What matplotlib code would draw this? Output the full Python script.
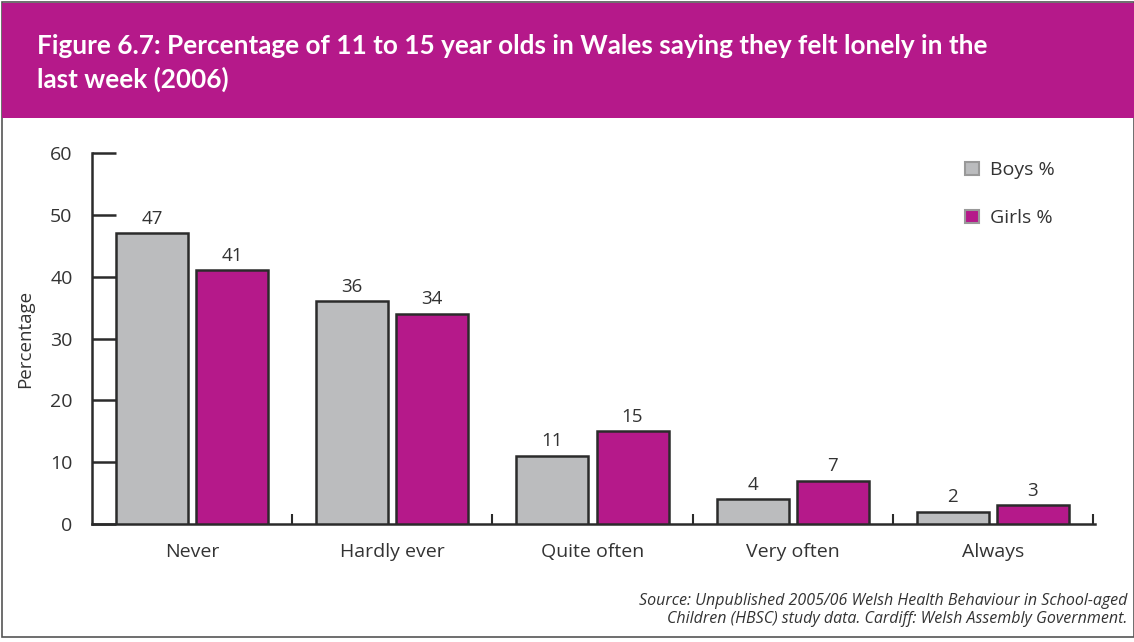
import matplotlib.pyplot as plt
import numpy as np
from matplotlib.patches import Rectangle

categories = ['Never', 'Hardly ever', 'Quite often', 'Very often', 'Always']
boys = [47, 36, 11, 4, 2]
girls = [41, 34, 15, 7, 3]
yticks = [0, 10, 20, 30, 40, 50, 60]

boy_color = '#BBBCBE'
girl_color = '#B5198A'
edge = '#2B2B2B'
text_color = '#333333'

plt.rcParams['font.family'] = ['Open Sans', 'DejaVu Sans']

fig = plt.figure(figsize=(11.34, 6.42), dpi=100)
W, H = 1134, 642

# page frame and title band
fig.patches.append(Rectangle((2 / W, 5 / H), 1 - 2 / W, 1 - 7 / H, transform=fig.transFigure,
                             facecolor='none', edgecolor='#555555', linewidth=1.2))
fig.patches.append(Rectangle((2 / W, 1 - 118 / H), 1 - 2 / W, 115 / H, transform=fig.transFigure,
                             facecolor='#B5198A', edgecolor='none'))
fig.text(37 / W, 1 - 46 / H, 'Figure 6.7: Percentage of 11 to 15 year olds in Wales saying they felt lonely in the',
         color='white', fontsize=18.8, fontweight='bold', family='Lato', va='center', ha='left')
fig.text(37 / W, 1 - 79 / H, 'last week (2006)',
         color='white', fontsize=18.8, fontweight='bold', family='Lato', va='center', ha='left')

ax = fig.add_axes([92 / W, 1 - 524 / H, (1095 - 92) / W, (524 - 153) / H])
x = np.arange(len(categories))
w = 0.36
ax.bar(x - 0.2, boys, w, color=boy_color, edgecolor=edge, linewidth=1.8, label='Boys %', zorder=3)
ax.bar(x + 0.2, girls, w, color=girl_color, edgecolor=edge, linewidth=1.8, label='Girls %', zorder=3)

for xi, b, g in zip(x, boys, girls):
    ax.text(xi - 0.2, b + 0.9, str(b), ha='center', va='bottom', fontsize=13.5, color=text_color)
    ax.text(xi + 0.2, g + 0.9, str(g), ha='center', va='bottom', fontsize=13.5, color=text_color)

ax.set_xlim(-0.5, len(categories) - 0.5 + 0.01)
ax.set_ylim(0, 60)
ax.set_yticks(yticks)
ax.set_xticks(x)
ax.set_xticklabels(categories, fontsize=14, color=text_color)
ax.tick_params(axis='y', direction='in', length=17, width=1.8, labelsize=14,
               labelcolor=text_color, pad=14, color=edge)
ax.tick_params(axis='x', length=0, pad=14)
# short marks between category groups
ax.set_xticks(list(x[:-1] + 0.5) + [4.5], minor=True)
ax.tick_params(axis='x', which='minor', direction='in', length=7, width=1.5, color=edge)

for s in ['top', 'right']:
    ax.spines[s].set_visible(False)
for s in ['left', 'bottom']:
    ax.spines[s].set_linewidth(1.8)
    ax.spines[s].set_color(edge)

ax.set_ylabel('Percentage', fontsize=13.5, color=text_color)
ax.yaxis.set_label_coords(-0.058, 0.5)

leg = ax.legend(loc='upper left', bbox_to_anchor=(0.853, 1.025), frameon=False, fontsize=14,
                handlelength=0.7, handleheight=0.7, handletextpad=0.6, labelspacing=1.55,
                labelcolor=text_color)
for h in leg.legend_handles:
    h.set_edgecolor('#999999')
    h.set_linewidth(1.5)

fig.text(1127 / W, 1 - 601 / H, 'Source: Unpublished 2005/06 Welsh Health Behaviour in School-aged',
         ha='right', va='center', fontsize=11.5, style='italic', color=text_color)
fig.text(1127 / W, 1 - 619 / H, 'Children (HBSC) study data. Cardiff: Welsh Assembly Government.',
         ha='right', va='center', fontsize=11.5, style='italic', color=text_color)

fig.savefig('out.png', dpi=100)
